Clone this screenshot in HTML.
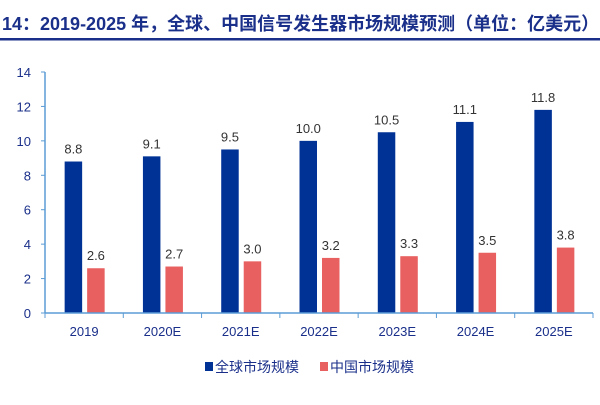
<!DOCTYPE html>
<html><head><meta charset="utf-8"><style>
body{margin:0;width:600px;height:400px;background:#fff;overflow:hidden;font-family:"Liberation Sans","Noto Sans CJK SC",sans-serif;}
</style></head><body>
<svg width="600" height="400" xmlns="http://www.w3.org/2000/svg">
<text x="2" y="30" font-size="18" font-weight="bold" fill="#1a2f8a" font-family="Liberation Sans,Noto Sans CJK SC,sans-serif">14：2019-2025 年，全球、中国信号发生器市场规模预测（单位：亿美元）</text>
<rect x="0" y="38" width="600" height="2.5" fill="#1a2f8a"/>
<g id="plot"></g>
</svg>
<script>
const categories=["2019","2020E","2021E","2022E","2023E","2024E","2025E"];
const globalValues=[8.8,9.1,9.5,10.0,10.5,11.1,11.8];
const chinaValues=[2.6,2.7,3.0,3.2,3.3,3.5,3.8];
const yTicks=[0,2,4,6,8,10,12,14];
const NS="http://www.w3.org/2000/svg";
const g=document.getElementById('plot');
const x0=45,x1=593,y0=313,yTop=72,yMax=14;
const cw=(x1-x0)/categories.length;
const y=v=>y0-(v/yMax)*(y0-yTop);
function mk(t,a,txt){const e=document.createElementNS(NS,t);for(const k in a)e.setAttribute(k,a[k]);if(txt!==undefined)e.textContent=txt;g.appendChild(e);return e;}
yTicks.forEach(v=>{
 const t=mk('text',{x:x0-14,y:y(v)+5,'text-anchor':'end','font-size':13,fill:'#1a2f8a'},v);
 
 
 const l=mk('line',{x1:x0-4,x2:x0,y1:y(v),y2:y(v),stroke:'#5b9bd5','stroke-width':1});
 
 
});
categories.forEach((c,i)=>{
 const cx=x0+cw*(i+0.5);
 const b=mk('rect',{x:cx-19.5,y:y(globalValues[i]),width:17.5,height:y0-y(globalValues[i]),fill:'#003296'});
 
 
 const r=mk('rect',{x:cx+3,y:y(chinaValues[i]),width:17.5,height:y0-y(chinaValues[i]),fill:'#e86060'});
 
 
 const lg=mk('text',{x:cx-10.75,y:y(globalValues[i])-8,'text-anchor':'middle','font-size':13,fill:'#333'},globalValues[i].toFixed(1));
 
 
 const lc=mk('text',{x:cx+11.75,y:y(chinaValues[i])-8,'text-anchor':'middle','font-size':13,fill:'#333'},chinaValues[i].toFixed(1));
 
 
 const xl=mk('text',{x:cx,y:y0+23,'text-anchor':'middle','font-size':13,fill:'#1a2f8a'},c);
 
 
});
for(let i=0;i<=categories.length;i++){
 const t=mk('line',{x1:x0+cw*i,x2:x0+cw*i,y1:y0,y2:y0+5,stroke:'#5b9bd5','stroke-width':1});
 
 
}
const ya=mk('line',{x1:x0,x2:x0,y1:yTop,y2:y0,stroke:'#5b9bd5','stroke-width':1.5});


const xa=mk('line',{x1:x0,x2:x1,y1:y0,y2:y0,stroke:'#5b9bd5','stroke-width':1.5});


const s1=mk('rect',{x:205,y:362,width:8,height:9,fill:'#003296'});


const t1=mk('text',{x:215,y:372,'font-size':14,fill:'#1a2f8a'},'全球市场规模');


const s2=mk('rect',{x:320,y:362,width:8,height:9,fill:'#e86060'});


const t2=mk('text',{x:330,y:372,'font-size':14,fill:'#1a2f8a'},'中国市场规模');


</script>
</body></html>
